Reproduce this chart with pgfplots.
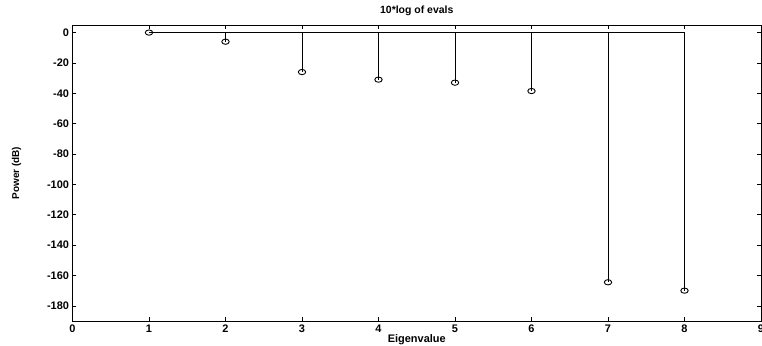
\documentclass[border=0pt]{standalone}
\usepackage{fontspec}
\setmainfont{Liberation Sans}
\usepackage{pgfplots}
\pgfplotsset{compat=1.18}
\begin{document}
\begin{tikzpicture}
\useasboundingbox (-72.5bp,-25bp) rectangle (689.5bp,321bp);
\begin{axis}[
 at={(0,0)}, anchor=south west, scale only axis,
 width=688.5bp, height=296bp,
 xmin=0, xmax=9, ymin=-190, ymax=5,
 xtick={0,1,...,9}, ytick={-180,-160,...,0},
 tick align=inside, major tick length=4bp,
 tick style={black, line width=0.6bp},
 axis line style={line width=0.8bp},
 ticklabel style={font=\bfseries\fontsize{11}{13}\selectfont},
 /pgf/number format/assume math mode=true,
 title={10*log of evals},
 title style={at={(axis description cs:0.5,1.0203)}, anchor=base, font=\bfseries\fontsize{10.5}{12}\selectfont},
 xlabel={Eigenvalue},
 xlabel style={at={(axis description cs:0.5,-0.0743)}, anchor=base, font=\bfseries\fontsize{11}{12}\selectfont},
 ylabel={Power (dB)},
 ylabel style={at={(axis description cs:-0.0813,0.5)}, anchor=center, font=\bfseries\fontsize{10}{11}\selectfont},
]
\addplot[ycomb, black, line width=0.7bp, mark=o, mark size=3.1bp, mark options={solid, line width=0.9bp, xscale=1.2, yscale=0.85}]
 coordinates {(1,0)(2,-6)(3,-26)(4,-31)(5,-33)(6,-38.5)(7,-164.5)(8,-170)};
\addplot[black, line width=0.7bp] coordinates {(1,0)(8,0)};
\end{axis}
\end{tikzpicture}
\end{document}
